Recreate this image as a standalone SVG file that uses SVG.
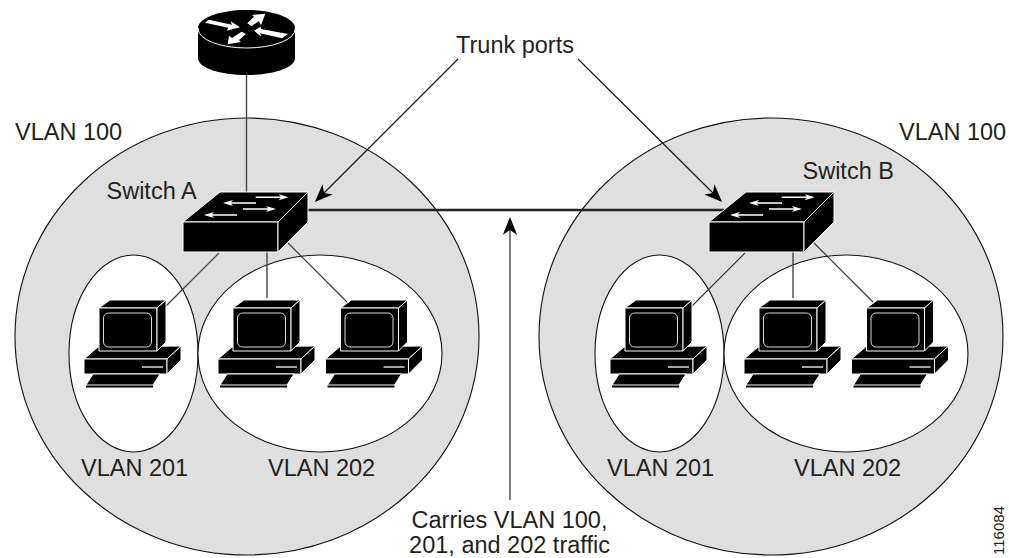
<svg xmlns="http://www.w3.org/2000/svg" xmlns:xlink="http://www.w3.org/1999/xlink" width="1009" height="558" viewBox="0 0 1009 558">
  <style>
    text { font-family: "Liberation Sans", Arial, sans-serif; font-size: 23.5px; fill: #231f20; }
    .big { fill: #dfdfdf; stroke: #111; stroke-width: 1.1; }
    .small { fill: #fff; stroke: #111; stroke-width: 1.1; }
    .link { stroke: #333; stroke-width: 1.1; fill: none; }
    .drop { stroke: #444; stroke-width: 1.4; fill: none; }
    .trunk { stroke: #222; stroke-width: 2.4; fill: none; }
    .pointer { stroke: #111; stroke-width: 1.1; fill: none; marker-end: url(#head); }
    .k { fill: #000; stroke: #fff; stroke-width: 1; stroke-linejoin: round; }
    .scr { fill: none; stroke: #d8d8d8; stroke-width: 1; }
    .w { fill: #fff; }
  </style>
  <defs>
    <marker id="head" markerUnits="userSpaceOnUse" markerWidth="20" markerHeight="16" refX="15" refY="7.5" orient="auto">
      <path d="M18,7.5 L0,0.3 L5,7.5 L0,14.7 Z" fill="#000"/>
    </marker>
    <polygon id="sw-arrow" points="0,-0.7 25,-0.7 23,-3 33,0 23,3 25,0.7 0,0.7"/>
    <g id="switch">
      <polygon class="k" points="183,222 220,192 308,192 278,222"/>
      <rect class="k" x="183" y="222" width="95" height="30"/>
      <polygon class="k" points="278,222 308,192 308,222 278,252"/>
      <use href="#sw-arrow" class="w" transform="translate(255.7,197.3)"/>
      <use href="#sw-arrow" class="w" transform="translate(256,203) scale(-1,1)"/>
      <use href="#sw-arrow" class="w" transform="translate(243,209)"/>
      <use href="#sw-arrow" class="w" transform="translate(237,215) scale(-1,1)"/>
    </g>
    <g id="pc">
      <polygon class="k" points="84,359 98,347 181,346 167,359"/>
      <rect class="k" x="84" y="359" width="83" height="15"/>
      <polygon class="k" points="167,359 181,346 181,360 167,374"/>
      <line x1="142" y1="367" x2="163" y2="367" stroke="#cfcfcf" stroke-width="1.6"/>
      <polygon class="k" points="99,308 110,300 166,300 157,308"/>
      <rect class="k" x="99" y="308" width="58" height="43"/>
      <polygon class="k" points="157,308 166,300 166,342 157,351"/>
      <rect class="scr" x="103.5" y="313" width="48" height="34" rx="5"/>
      <polygon class="k" points="86,385 93,374 160,374 153,385"/>
      <rect x="86" y="385.5" width="67" height="2" fill="#000"/>
    </g>
  </defs>

  <g id="vlan-areas">
    <ellipse id="vlan100-a" class="big" cx="247" cy="336.5" rx="232" ry="218.5"/>
    <ellipse id="vlan100-b" class="big" cx="771" cy="336.5" rx="232" ry="218.5"/>
    <ellipse id="vlan201-a" class="small" cx="133.5" cy="353.5" rx="64.5" ry="98.5"/>
    <ellipse id="vlan202-a" class="small" cx="320" cy="353.5" rx="122" ry="98.5"/>
    <ellipse id="vlan201-b" class="small" cx="659.5" cy="353.5" rx="64.5" ry="98.5"/>
    <ellipse id="vlan202-b" class="small" cx="846" cy="353.5" rx="122" ry="98.5"/>
  </g>

  <g id="connectors">
    <line class="drop" x1="246.5" y1="75" x2="246.5" y2="192"/>
    <line class="link" x1="219" y1="253" x2="166" y2="306"/>
    <line class="drop" x1="267" y1="252" x2="267" y2="298"/>
    <line class="link" x1="288" y1="243" x2="347" y2="302"/>
    <line class="link" x1="745" y1="253" x2="692" y2="306"/>
    <line class="drop" x1="793" y1="252" x2="793" y2="298"/>
    <line class="link" x1="814" y1="243" x2="873" y2="302"/>
    <line class="trunk" x1="308" y1="210" x2="724" y2="210"/>
    <line class="pointer" x1="458" y1="59" x2="317" y2="200"/>
    <line class="pointer" x1="578" y1="59" x2="720" y2="200"/>
    <line class="pointer" x1="510" y1="500" x2="510" y2="220"/>
  </g>

  <g id="router">
    <path d="M198,28 V58 C198,68 220,75 246.7,75 C273,75 295,68 295,58 V28 Z" fill="#000"/>
    <ellipse cx="246.7" cy="29" rx="48.5" ry="19" fill="#000" stroke="#fff" stroke-width="1"/>
    <path d="M198,28 C198,18 220,10 246.7,10 C273,10 295,18 295,28 Z" fill="#000"/>
    <g class="w" transform="translate(160,0) scale(0.3333)">
      <polygon points="135,68 146,59 216,74 212,64 240,82 200,92 205,83"/>
      <polygon points="262,70 282,50 276,45 316,41 303,76 296,64 275,78"/>
      <polygon points="384,102 366,115 300,100 304,110 282,92 302,80 303,87"/>
      <polygon points="245,95 258,102 237,120 243,126 203,133 207,107 216,114"/>
    </g>
  </g>

  <g id="switch-a"><use href="#switch"/></g>
  <g id="switch-b"><use href="#switch" transform="translate(526,0)"/></g>
  <g id="pc-a1"><use href="#pc"/></g>
  <g id="pc-a2"><use href="#pc" transform="translate(134,0)"/></g>
  <g id="pc-a3"><use href="#pc" transform="translate(241.5,0)"/></g>
  <g id="pc-b1"><use href="#pc" transform="translate(526,0)"/></g>
  <g id="pc-b2"><use href="#pc" transform="translate(660,0)"/></g>
  <g id="pc-b3"><use href="#pc" transform="translate(767.5,0)"/></g>

  <g id="labels">
    <text x="456" y="52.5">Trunk ports</text>
    <text x="15" y="139.5">VLAN 100</text>
    <text x="899" y="139.5">VLAN 100</text>
    <text x="106.5" y="199">Switch A</text>
    <text x="802.5" y="179">Switch B</text>
    <text x="81" y="476">VLAN 201</text>
    <text x="268" y="476">VLAN 202</text>
    <text x="607" y="476">VLAN 201</text>
    <text x="794" y="476">VLAN 202</text>
    <text x="509.5" y="527.5" text-anchor="middle">Carries VLAN 100,</text>
    <text x="509.5" y="553" text-anchor="middle">201, and 202 traffic</text>
    <text transform="translate(1004,555) rotate(-90)" style="font-size:15px">116084</text>
  </g>
</svg>
